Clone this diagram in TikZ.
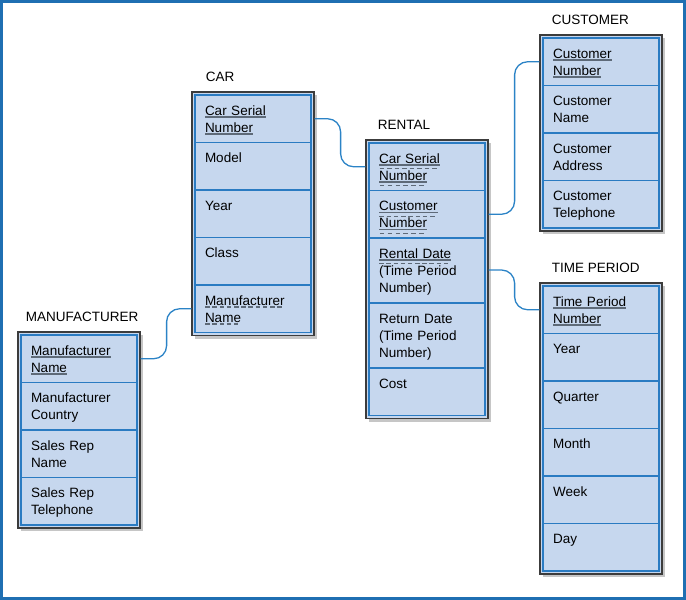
\documentclass[tikz,border=0pt]{standalone}
\usepackage{fontspec}
\setmainfont{Liberation Sans}
\usepackage{xcolor}
\usepackage{tikz}
\usetikzlibrary{calc,fit,positioning,shadows,backgrounds}
\definecolor{FrameBlue}{HTML}{1F6FB2}
\definecolor{FieldBlue}{HTML}{2A7BC2}
\definecolor{FieldFill}{HTML}{C6D7EE}
\definecolor{LinkBlue}{HTML}{2B83C6}
\definecolor{KeyGray}{HTML}{5E6A78}
\definecolor{BoxEdge}{HTML}{3C3C3C}

\newcommand\keydash[2]{\hbox to #1{\xleaders\hbox to 7pt{\rule[#2]{4.5pt}{1.4pt}\hfil}\hfill}}
\newcommand\pkey[1]{\leavevmode\setbox0\hbox{#1}\rlap{\smash{\color{KeyGray}\rule[-2.8pt]{\wd0}{1.4pt}}}\box0}
\newcommand\fkey[1]{\leavevmode\setbox0\hbox{#1}\rlap{\smash{\color{KeyGray}\keydash{\wd0}{-2.8pt}}}\box0}
\newcommand\pfkey[1]{\leavevmode\setbox0\hbox{#1}\rlap{\smash{\color{KeyGray}\rule[-2.6pt]{\wd0}{1.3pt}}}\rlap{\smash{\color{KeyGray}\keydash{\wd0}{-6.4pt}}}\box0}

\begin{document}
\begin{tikzpicture}[x=1pt,y=-1pt,
  field/.style={draw=FieldBlue,fill=FieldFill,line width=1.2pt,outer sep=0pt,inner xsep=10pt,inner ysep=0pt,
    text width=96pt,align=left,text height=20pt,text depth=#1,font=\fontsize{13.5}{17}\selectfont},
  field/.default=27.5pt,
  table/.style={draw=BoxEdge,fill=FieldFill,line width=1.2pt,inner sep=3pt,
    drop shadow={shadow xshift=3pt,shadow yshift=-3pt,opacity=0.45}},
  title/.style={anchor=base west,font=\fontsize{13.5}{17}\selectfont},
  link/.style={draw=LinkBlue,line width=1.3pt,rounded corners=13pt}
]
\useasboundingbox (0,0) rectangle (686,600);
\draw[FrameBlue,line width=3pt] (1.5,1.5) rectangle (684.5,598.5);

\node[field,anchor=north west] (car1) at (195,95) {\pkey{Car Serial}\\\pkey{Number}};
\node[field,below=0pt of car1] (car2) {Model};
\node[field,below=0pt of car2] (car3) {Year};
\node[field,below=0pt of car3] (car4) {Class};
\node[field,below=0pt of car4] (car5) {\fkey{Manufacturer}\\\fkey{Name}};

\node[field,anchor=north west] (rent1) at (369,143) {\pfkey{Car Serial}\\\pfkey{Number}};
\node[field,below=0pt of rent1] (rent2) {\pfkey{Customer}\\\pfkey{Number}};
\node[field=45pt,below=0pt of rent2] (rent3) {\pfkey{Rental Date}\\(Time Period\\Number)};
\node[field=45pt,below=0pt of rent3] (rent4) {Return Date\\(Time Period\\Number)};
\node[field,below=0pt of rent4] (rent5) {Cost};

\node[field,anchor=north west] (manu1) at (21,335) {\pkey{Manufacturer}\\\pkey{Name}};
\node[field,below=0pt of manu1] (manu2) {Manufacturer\\Country};
\node[field,below=0pt of manu2] (manu3) {Sales Rep\\Name};
\node[field,below=0pt of manu3] (manu4) {Sales Rep\\Telephone};

\node[field,anchor=north west] (cust1) at (543,38) {\pkey{Customer}\\\pkey{Number}};
\node[field,below=0pt of cust1] (cust2) {Customer\\Name};
\node[field,below=0pt of cust2] (cust3) {Customer\\Address};
\node[field,below=0pt of cust3] (cust4) {Customer\\Telephone};

\node[field,anchor=north west] (time1) at (543,286) {\pkey{Time Period}\\\pkey{Number}};
\node[field,below=0pt of time1] (time2) {Year};
\node[field,below=0pt of time2] (time3) {Quarter};
\node[field,below=0pt of time3] (time4) {Month};
\node[field,below=0pt of time4] (time5) {Week};
\node[field,below=0pt of time5] (time6) {Day};

\begin{scope}[on background layer]
\node[table,fit=(car1)(car5)] (car) {};
\node[table,fit=(rent1)(rent5)] (rental) {};
\node[table,fit=(manu1)(manu4)] (manuf) {};
\node[table,fit=(cust1)(cust4)] (cust) {};
\node[table,fit=(time1)(time6)] (timep) {};
\end{scope}

\node[title] (cartitle) at ([xshift=11pt,yshift=10pt]car.north west) {CAR};
\node[title] (renttitle) at ([xshift=9pt,yshift=10pt]rental.north west) {RENTAL};
\node[title] (manutitle) at ([xshift=5pt,yshift=10pt]manuf.north west) {MANUFACTURER};
\node[title] (custtitle) at ([xshift=9pt,yshift=10pt]cust.north west) {CUSTOMER};
\node[title] (timetitle) at ([xshift=9pt,yshift=10pt]timep.north west) {TIME PERIOD};

\draw[link] (car.east |- car1.east) -- ++(26,0) |- (rental.west |- rent1.west);
\draw[link] (manuf.east |- manu1.east) -- ++(26,0) |- (car.west |- car5.west);
\draw[link] (rental.east |- rent2.east) -- ++(26,0) |- (cust.west |- cust1.west);
\draw[link] (rental.east |- rent3.north east) ++(0,32) -- ++(26,0) |- (timep.west |- time1.west);
\end{tikzpicture}
\end{document}
